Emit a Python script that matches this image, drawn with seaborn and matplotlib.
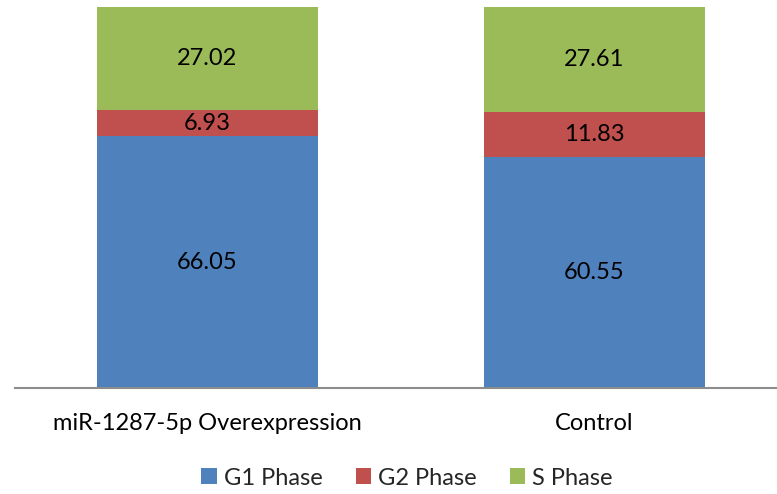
import numpy as np
import pandas as pd
import matplotlib.pyplot as plt
import seaborn as sns

groups = ['miR-1287-5p Overexpression', 'Control']
phases = ['G1 Phase', 'G2 Phase', 'S Phase']
g1 = [66.05, 60.55]
g2 = [6.93, 11.83]
s_phase = [27.02, 27.61]
colors = ['#4F81BD', '#C0504D', '#9BBB59']

sns.set_theme(style='white')
plt.rcParams['font.family'] = ['Lato', 'DejaVu Sans']

df = pd.DataFrame({'group': groups, 'G1 Phase': g1, 'G2 Phase': g2, 'S Phase': s_phase})
cum = df[phases].cumsum(axis=1)
bottoms = cum - df[phases]

fig = plt.figure(figsize=(7.77, 4.94), dpi=100)
ax = fig.add_axes([15 / 777, 106 / 494, 762 / 777, 381 / 494])

# stacked bars: draw the cumulative totals from top down so each layer covers the one above
for ph, col in reversed(list(zip(phases, colors))):
    sns.barplot(x=df['group'], y=cum[ph], color=col, width=0.571, saturation=1,
                ax=ax, label=ph, linewidth=0)

for i in range(len(groups)):
    for ph in phases:
        v = df.loc[i, ph]
        ax.text(i, bottoms.loc[i, ph] + v / 2, f'{v:.2f}', ha='center', va='center',
                fontsize=17, color='black')

ax.set_xlim(-0.497, 1.472)
ax.set_ylim(0, 100)
ax.set_xlabel('')
ax.set_ylabel('')
ax.set_yticks([])
ax.tick_params(axis='x', length=0, pad=18, labelsize=17, labelcolor='black')
for side in ['left', 'right', 'top']:
    ax.spines[side].set_visible(False)
ax.spines['bottom'].set_color('#8c8c8c')
ax.spines['bottom'].set_linewidth(1.5)

handles, labels = ax.get_legend_handles_labels()
ax.get_legend().remove()
order = [labels.index(p) for p in phases]
fig.legend([handles[k] for k in order], phases, loc='center', bbox_to_anchor=(407 / 777, 1 - 478 / 494),
           ncol=3, frameon=False, fontsize=17, handlelength=0.65, handleheight=0.65,
           handletextpad=0.3, columnspacing=1.4)

fig.savefig('out.png', dpi=100)
